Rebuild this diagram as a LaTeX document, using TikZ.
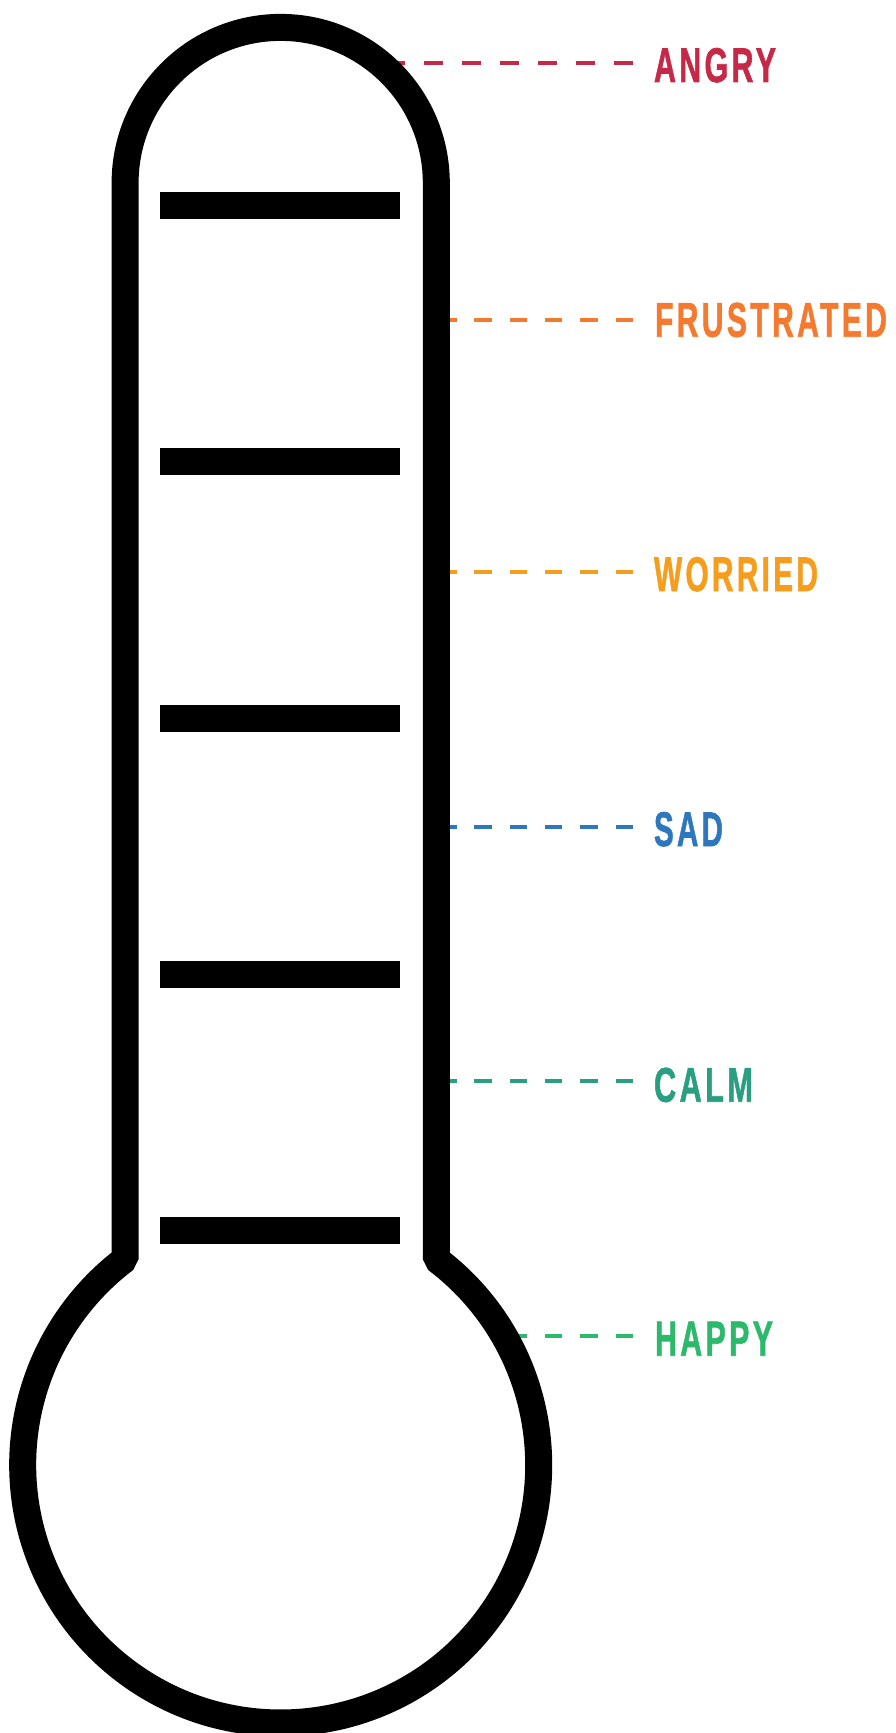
\documentclass[tikz,border=0pt]{standalone}
\usepackage{fontspec}
\setmainfont{Liberation Sans}
\newfontfamily\labfont{Liberation Sans}[LetterSpace=11, BoldFeatures={FakeBold=1.5}]
\usepackage{graphicx}
\definecolor{cangry}{HTML}{C62848}
\definecolor{cfrus}{HTML}{F47A30}
\definecolor{cworr}{HTML}{F59E1E}
\definecolor{csad}{HTML}{2F77BD}
\definecolor{ccalm}{HTML}{2A9E80}
\definecolor{chappy}{HTML}{2DB96C}
\tikzset{
  thermo/.style={draw=black, fill=white, line width=13.5pt, line join=bevel},
  tickbar/.style={fill=black, draw=none},
  lead/.style={line width=2pt},
  leadA/.style={lead, dash pattern=on 9.5pt off 9.5pt},
  leadB/.style={lead, dash pattern=on 8.75pt off 8.9pt},
  moodlabel/.style={anchor=base west, inner sep=0pt, outer sep=0pt, font=\labfont\bfseries}
}
\newcommand{\mood}[2]{\resizebox{#1}{17pt}{#2}}
\begin{document}
\begin{tikzpicture}[x=0.5pt,y=-0.5pt]
\useasboundingbox (0,0) rectangle (895,1733);
% dashed leaders (drawn from label side toward thermometer)
\coordinate (angryend) at (633,63);
\coordinate (frusend) at (633,320);
\coordinate (worrend) at (633,571.7);
\coordinate (sadend) at (633,827.3);
\coordinate (calmend) at (633,1080.7);
\coordinate (happyend) at (633,1335.7);
\coordinate (angryin) at (281,63);
\coordinate (frusin) at (281,320);
\coordinate (worrin) at (281,571.7);
\coordinate (sadin) at (281,827.3);
\coordinate (calmin) at (281,1080.7);
\coordinate (happyin) at (281,1335.7);
\draw[leadA, cangry] (angryend) -- (angryin);
\draw[leadB, cfrus] (frusend) -- (frusin);
\draw[leadB, cworr] (worrend) -- (worrin);
\draw[leadB, csad] (sadend) -- (sadin);
\draw[leadB, ccalm] (calmend) -- (calmin);
\draw[leadB, chappy] (happyend) -- (happyin);
% thermometer
\draw[thermo] (125.1,700) -- (125.1,183)
  arc[start angle=180, end angle=360, radius=155.6]
  -- (436.3,1259.2)
  arc[start angle=-52.9, end angle=232.9, radius=258]
  -- cycle;
% ticks
\foreach \c in {205.5,461.9,718.2,974.6,1230.9}{
  \fill[tickbar] (160,\c-13.5) rectangle (400,\c+13.5);
}
% labels
\node[moodlabel, text=cangry] (angry) at (654,82) {\mood{61pt}{ANGRY}};
\node[moodlabel, text=cfrus] (frus) at (655,336.7) {\mood{116pt}{FRUSTRATED}};
\node[moodlabel, text=cworr] (worr) at (654,591) {\mood{82pt}{WORRIED}};
\node[moodlabel, text=csad] (sad) at (654,846) {\mood{34.5pt}{SAD}};
\node[moodlabel, text=ccalm] (calm) at (654,1101.7) {\mood{49.5pt}{CALM}};
\node[moodlabel, text=chappy] (happy) at (655,1355.7) {\mood{59pt}{HAPPY}};
\end{tikzpicture}
\end{document}
